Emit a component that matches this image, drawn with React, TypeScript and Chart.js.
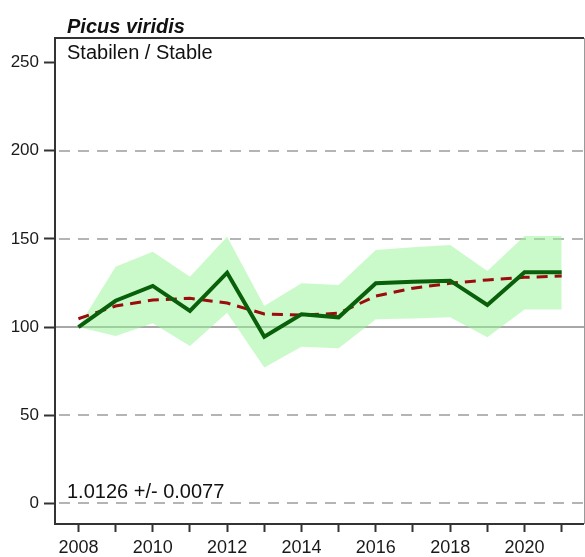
import { useEffect, useRef } from 'react';
import { Chart, registerables } from 'chart.js';

Chart.register(...registerables);

const years = [2008, 2009, 2010, 2011, 2012, 2013, 2014, 2015, 2016, 2017, 2018, 2019, 2020, 2021];
const indexValues = [100, 114.9, 123.3, 109.2, 130.8, 94.5, 107.2, 105.5, 124.8, 125.7, 126.3, 112.5, 131, 131];
const trendValues = [104.7, 111.9, 115.3, 116.3, 113.6, 107.4, 106.8, 107.8, 117.6, 122, 124.8, 126.7, 128.2, 128.9];
const upperValues = [100, 134.2, 142.7, 128.5, 151.2, 111.9, 124.8, 123.8, 143.7, 145.2, 146.5, 131.8, 151.6, 151.6];
const lowerValues = [100, 94.9, 102.1, 89.2, 108.1, 77.1, 88.8, 87.9, 104.4, 104.9, 105.5, 94.2, 110, 110];
const yTickValues = [0, 50, 100, 150, 200, 250];
const dashedGridValues = [0, 50, 150, 200];
const referenceValue = 100;
const titleText = 'Picus viridis';
const subtitleText = 'Stabilen / Stable';
const slopeText = '1.0126 +/- 0.0077';

const FONT = '"Liberation Sans", Arial, Helvetica, sans-serif';

const pts = (vals: number[]) => years.map((x, i) => ({ x, y: vals[i] }));

const decorPlugin = {
  id: 'decor',
  beforeDatasetsDraw(chart: any) {
    const { ctx, chartArea: a, scales } = chart;
    const y = scales.y;
    ctx.save();
    ctx.beginPath();
    ctx.rect(a.left, a.top, a.right - a.left, a.bottom - a.top);
    ctx.clip();
    ctx.lineWidth = 2;
    ctx.strokeStyle = '#b4b4b4';
    ctx.setLineDash([11, 8]);
    dashedGridValues.forEach((v) => {
      const py = Math.round(y.getPixelForValue(v));
      ctx.beginPath();
      ctx.moveTo(a.left + 4, py);
      ctx.lineTo(a.right, py);
      ctx.stroke();
    });
    ctx.setLineDash([]);
    ctx.strokeStyle = '#a8a8a8';
    const ry = Math.round(y.getPixelForValue(referenceValue));
    ctx.beginPath();
    ctx.moveTo(a.left, ry);
    ctx.lineTo(a.right, ry);
    ctx.stroke();
    ctx.restore();
  },
  afterDraw(chart: any) {
    const { ctx, chartArea: a } = chart;
    ctx.save();
    // box
    ctx.strokeStyle = '#333333';
    ctx.lineWidth = 2;
    ctx.beginPath();
    ctx.moveTo(a.right, a.top);
    ctx.lineTo(a.left, a.top);
    ctx.lineTo(a.left, a.bottom);
    ctx.lineTo(a.right, a.bottom);
    ctx.stroke();
    ctx.strokeStyle = '#9a9a9a';
    ctx.lineWidth = 1;
    ctx.beginPath();
    ctx.moveTo(a.right + 0.5, a.top);
    ctx.lineTo(a.right + 0.5, a.bottom);
    ctx.stroke();
    // texts
    ctx.fillStyle = '#111111';
    ctx.textAlign = 'left';
    ctx.textBaseline = 'alphabetic';
    ctx.font = `italic bold 20px ${FONT}`;
    ctx.fillText(titleText, 67, 33);
    ctx.font = `20px ${FONT}`;
    ctx.fillText(subtitleText, 67, 58.5);
    ctx.fillText(slopeText, 67, 498);
    ctx.restore();
  },
};

export default function App() {
  const ref = useRef<HTMLCanvasElement | null>(null);

  useEffect(() => {
    if (!ref.current) return;
    const chart = new Chart(ref.current, {
      type: 'line',
      data: {
        datasets: [
          {
            label: 'Index',
            data: pts(indexValues),
            borderColor: '#0a5f0a',
            borderWidth: 4,
            pointRadius: 0,
            fill: false,
            tension: 0,
            order: 0,
          },
          {
            label: 'Trend',
            data: pts(trendValues),
            borderColor: '#9b0c0c',
            borderWidth: 3,
            borderDash: [11, 7],
            pointRadius: 0,
            fill: false,
            tension: 0,
            order: 1,
          },
          {
            label: 'Upper',
            data: pts(upperValues),
            borderWidth: 0,
            borderColor: 'rgba(0,0,0,0)',
            backgroundColor: 'rgba(150,245,150,0.5)',
            pointRadius: 0,
            fill: '+1',
            tension: 0,
            order: 2,
          },
          {
            label: 'Lower',
            data: pts(lowerValues),
            borderWidth: 0,
            borderColor: 'rgba(0,0,0,0)',
            pointRadius: 0,
            fill: false,
            tension: 0,
            order: 3,
          },
        ],
      },
      options: {
        responsive: false,
        animation: false,
        layout: { padding: { top: 38, right: 1, left: 0, bottom: 0 } },
        plugins: {
          legend: { display: false },
          tooltip: { enabled: false },
          title: { display: false },
        },
        scales: {
          x: {
            type: 'linear',
            min: 2007.37,
            max: 2021.6,
            afterBuildTicks: (axis: any) => {
              axis.ticks = years.map((v) => ({ value: v }));
            },
            afterFit: (axis: any) => {
              axis.height = 33;
            },
            grid: {
              display: true,
              drawOnChartArea: false,
              drawTicks: true,
              tickLength: 8,
              tickColor: '#333333',
              tickWidth: 2,
            },
            border: { display: false },
            ticks: {
              autoSkip: false,
              maxRotation: 0,
              padding: 5,
              color: '#1a1a1a',
              font: { family: FONT, size: 18 },
              callback: (v: any) => (Number(v) % 2 === 0 ? String(v) : ''),
            },
          },
          y: {
            type: 'linear',
            min: -11.7,
            max: 263.9,
            afterBuildTicks: (axis: any) => {
              axis.ticks = yTickValues.map((v) => ({ value: v }));
            },
            afterFit: (axis: any) => {
              axis.width = 55;
            },
            grid: {
              display: true,
              drawOnChartArea: false,
              drawTicks: true,
              tickLength: 11,
              tickColor: '#333333',
              tickWidth: 2,
            },
            border: { display: false },
            ticks: {
              padding: 5,
              color: '#1a1a1a',
              font: { family: FONT, size: 17 },
              callback: (v: any) => String(v),
            },
          },
        },
      },
      plugins: [decorPlugin],
    });
    return () => chart.destroy();
  }, []);

  return (
    <div style={{ position: 'absolute', left: 0, top: 0, width: 585, height: 557, background: '#ffffff' }}>
      <canvas ref={ref} width={585} height={557} style={{ display: 'block' }} />
    </div>
  );
}
